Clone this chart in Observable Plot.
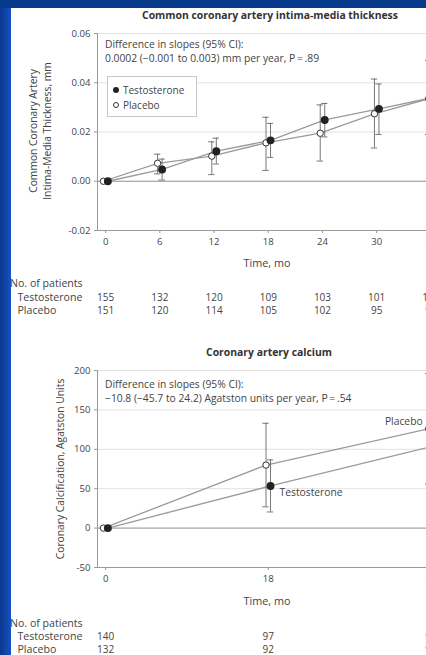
<!DOCTYPE html>
<html><head><meta charset="utf-8">
<script src="https://cdn.jsdelivr.net/npm/d3@7"></script>
<script src="https://cdn.jsdelivr.net/npm/@observablehq/plot@0.6"></script>
<style>
html,body{margin:0;padding:0;overflow:hidden;background:#fff}
#wrap{position:relative;width:426px;height:655px;overflow:hidden;background:#fff;font-family:"Open Sans",sans-serif;color:#444}
.abs{position:absolute;white-space:nowrap;line-height:1}
.title{font-weight:700;font-size:10.4px;color:#333;transform:translate(-50%,-50%)}
.note{font-size:10.3px;color:#444;transform:translateY(-50%)}
.axl{font-size:10.8px;color:#444;transform:translate(-50%,-50%)}
.ylab{font-size:10.3px;color:#444;transform:translate(-50%,-50%) rotate(-90deg)}
svg.svgbox{position:absolute;left:0;max-width:none !important}
#leftbar{position:absolute;left:0;top:0;width:11px;height:655px;background:linear-gradient(90deg,#0a3790,#1752c0);z-index:5}
#topbar{position:absolute;left:0;top:0;width:426px;height:8px;background:#083a8c;z-index:5}
#legend{position:absolute;left:107px;top:76px;width:88px;height:39px;border:1px solid #c8c8c8;background:#fff;font-size:10px;color:#444}
#legend .it{position:absolute;left:5px;display:flex;align-items:center;gap:4px;line-height:1}
#legend .d{width:6px;height:6px;border-radius:50%;box-sizing:border-box}
</style></head>
<body>
<div id="wrap">
  <div id="leftbar"></div><div id="topbar"></div>
  <div class="abs title" style="left:270px;top:15px">Common coronary artery intima-media thickness</div>
  <div class="abs title" style="left:269px;top:352px">Coronary artery calcium</div>
</div>
<script>
// ---------- data ----------
const months = [0, 6, 12, 18, 24, 30, 36];
const imtTestosterone = [0, 0.0048, 0.0122, 0.0166, 0.0249, 0.0294, 0.0340];
const imtTestosteroneLow = [0, 0.0005, 0.0070, 0.0097, 0.0180, 0.0190, 0.0210];
const imtTestosteroneHigh = [0, 0.0090, 0.0175, 0.0235, 0.0316, 0.0395, 0.0470];
const imtPlacebo = [0, 0.0073, 0.0102, 0.0156, 0.0195, 0.0274, 0.0335];
const imtPlaceboLow = [0, 0.0030, 0.0027, 0.0044, 0.0082, 0.0135, 0.0190];
const imtPlaceboHigh = [0, 0.0110, 0.0160, 0.0260, 0.0310, 0.0415, 0.0490];
const imtPatientsTestosterone = [155, 132, 120, 109, 103, 101, 100];
const imtPatientsPlacebo = [151, 120, 114, 105, 102, 95, 94];
const imtYTicks = [-0.02, 0, 0.02, 0.04, 0.06];

const cacMonths = [0, 18, 36];
const cacTestosterone = [0, 53.5, 104];
const cacTestosteroneLow = [0, 20.5, 44];
const cacTestosteroneHigh = [0, 86.5, 164];
const cacPlacebo = [0, 80, 126];
const cacPlaceboLow = [0, 27, 56];
const cacPlaceboHigh = [0, 133, 196];
const cacPatientsTestosterone = [140, 97, 95];
const cacPatientsPlacebo = [132, 92, 91];
const cacYTicks = [-50, 0, 50, 100, 150, 200];

const groups = ["Testosterone", "Placebo"];
const imtNote = ["Difference in slopes (95% CI):", "0.0002 (\u22120.001 to 0.003) mm per year, P\u2009=\u2009.89"];
const cacNote = ["Difference in slopes (95% CI):", "\u221210.8 (\u221245.7 to 24.2) Agatston units per year, P\u2009=\u2009.54"];

// ---------- layout ----------
const xDomain = [-0.9, 38.5];
const pxPerMonth = 325 / 36;
const mLeft = 97;
const W = Math.round(mLeft + (xDomain[1] - xDomain[0]) * pxPerMonth);
const dodge = 0.25, cap = 0.35;
const wrap = document.getElementById("wrap");
const fontStyle = {fontFamily: "Open Sans, sans-serif", fontSize: "9.6px", color: "#444", background: "transparent", overflow: "visible", maxWidth: "none"};

function table(ms, t, tl, th, p, pl, ph) {
  const rows = [];
  ms.forEach((m, i) => {
    rows.push({g: "Testosterone", m, x: m + dodge, v: t[i], lo: tl[i], hi: th[i]});
    rows.push({g: "Placebo", m, x: m - dodge, v: p[i], lo: pl[i], hi: ph[i]});
  });
  return rows;
}

function place(svg, top) {
  svg.classList.add("svgbox");
  svg.style.top = top + "px";
  svg.style.maxWidth = "none";
  svg.style.width = W + "px";
  wrap.appendChild(svg);
}

function chart(rows, yDomain, yTicks, xTicks, fmt, top, extra) {
  const bars = rows.filter(d => d.hi !== d.lo);
  const svg = Plot.plot({
    width: W, height: 250, marginLeft: mLeft, marginRight: 0, marginTop: 33, marginBottom: 20,
    style: fontStyle,
    x: {domain: xDomain, range: [mLeft, W]},
    y: {domain: yDomain},
    marks: [
      Plot.gridY(yTicks, {stroke: "#e2e2e2", strokeOpacity: 1}),
      Plot.ruleY([0], {stroke: "#9a9a9a"}),
      Plot.ruleY([yDomain[0]], {stroke: "#9a9a9a"}),
      Plot.ruleX([xDomain[0]], {stroke: "#9a9a9a"}),
      Plot.axisY({ticks: yTicks, tickFormat: fmt, tickSize: 3, tickPadding: 4, stroke: "#9a9a9a", label: null}),
      Plot.axisX({ticks: xTicks, tickSize: 3, tickPadding: 5, stroke: "#9a9a9a", label: null}),
      Plot.line(rows, {x: "x", y: "v", z: "g", stroke: "#9a9a9a", strokeWidth: 1.3}),
      Plot.ruleX(bars, {x: "x", y1: "lo", y2: "hi", stroke: "#555", strokeWidth: 0.8}),
      Plot.ruleY(bars, {y: "lo", x1: d => d.x - cap, x2: d => d.x + cap, stroke: "#555", strokeWidth: 0.8}),
      Plot.ruleY(bars, {y: "hi", x1: d => d.x - cap, x2: d => d.x + cap, stroke: "#555", strokeWidth: 0.8}),
      Plot.dot(rows.filter(d => d.g === "Placebo"), {x: "x", y: "v", r: 3.2, fill: "#fff", stroke: "#333", strokeWidth: 1}),
      Plot.dot(rows.filter(d => d.g === "Testosterone"), {x: "x", y: "v", r: 3.2, fill: "#222", stroke: "#222"}),
      ...(extra || [])
    ]
  });
  place(svg, top);
}

function patients(ms, t, p, top) {
  const rows = [];
  ms.forEach((m, i) => { rows.push({g: "Testosterone", m, n: t[i]}); rows.push({g: "Placebo", m, n: p[i]}); });
  const svg = Plot.plot({
    width: W, height: 27, marginLeft: mLeft, marginRight: 0, marginTop: 0, marginBottom: 0,
    style: fontStyle,
    x: {domain: xDomain, range: [mLeft, W], axis: null},
    y: {domain: groups, axis: null},
    marks: [
      Plot.text(rows, {x: "m", y: "g", text: d => String(d.n), fill: "#444", fontSize: 10}),
      Plot.text(groups, {y: d => d, text: d => d, frameAnchor: "left", textAnchor: "start", dx: -80, fill: "#444", fontSize: 10.6})
    ]
  });
  place(svg, top);
}

function html(cls, text, left, top) {
  const el = document.createElement("div");
  el.className = "abs " + cls;
  el.textContent = text;
  el.style.left = left + "px";
  el.style.top = top + "px";
  wrap.appendChild(el);
  return el;
}

// ---------- top chart ----------
const imtRows = table(months, imtTestosterone, imtTestosteroneLow, imtTestosteroneHigh, imtPlacebo, imtPlaceboLow, imtPlaceboHigh);
chart(imtRows, [imtYTicks[0], imtYTicks[imtYTicks.length - 1]], imtYTicks, months, d => d.toFixed(2), 0);
html("note", imtNote[0], 105, 44);
html("note", imtNote[1], 105, 58);
html("axl", "Time, mo", 267, 263);
html("ylab", "Common Coronary Artery", 33, 131);
html("ylab", "Intima-Media Thickness, mm", 47, 131);
html("note", "No. of patients", 10, 283).style.fontSize = "10.6px";
patients(months, imtPatientsTestosterone, imtPatientsPlacebo, 290);

const lg = document.createElement("div");
lg.id = "legend";
lg.innerHTML = '<div class="it" style="top:8px"><div class="d" style="background:#222"></div>' + groups[0] + '</div>' +
               '<div class="it" style="top:23px"><div class="d" style="border:1px solid #333;background:#fff"></div>' + groups[1] + '</div>';
wrap.appendChild(lg);

// ---------- bottom chart ----------
const cacRows = table(cacMonths, cacTestosterone, cacTestosteroneLow, cacTestosteroneHigh, cacPlacebo, cacPlaceboLow, cacPlaceboHigh);
const labT = cacRows.filter(d => d.g === "Testosterone" && d.m === cacMonths[1]);
const labP = cacRows.filter(d => d.g === "Placebo" && d.m === cacMonths[2]);
chart(cacRows, [cacYTicks[0], cacYTicks[cacYTicks.length - 1]], cacYTicks, cacMonths, d => String(d), 337, [
  Plot.text(labT, {x: "x", y: "v", text: "g", dx: 9, dy: 7, textAnchor: "start", fill: "#444", fontSize: 10.3}),
  Plot.text(labP, {x: "x", y: "v", text: "g", dx: -6, dy: -7, textAnchor: "end", fill: "#444", fontSize: 10.3})
]);
html("note", cacNote[0], 105, 384);
html("note", cacNote[1], 105, 398);
html("axl", "Time, mo", 267, 601);
html("ylab", "Coronary Calcification, Agatston Units", 60, 469);
html("note", "No. of patients", 10, 623).style.fontSize = "10.6px";
patients(cacMonths, cacPatientsTestosterone, cacPatientsPlacebo, 629);
</script>
</body></html>
